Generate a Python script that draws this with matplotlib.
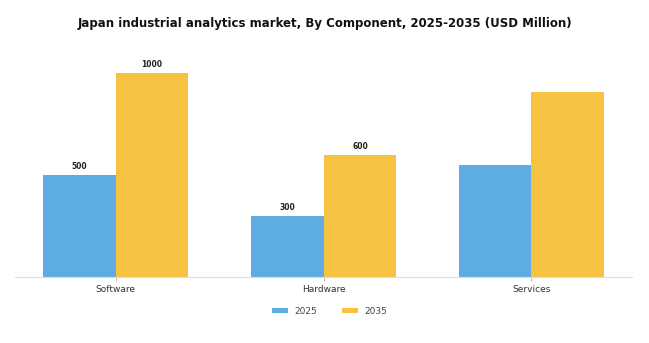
import matplotlib.pyplot as plt
import numpy as np

# данные по сегментам рынка
components = ['Software', 'Hardware', 'Services']
values_2025 = [500, 300, 550]
values_2035 = [1000, 600, 910]
labels_2025 = ['500', '300', '']
labels_2035 = ['1000', '600', '']

color_2025 = '#5DADE2'
color_2035 = '#F5C242'

fig = plt.figure(figsize=(6.49, 3.43), dpi=100)
ax = fig.add_axes([0.023, 0.192, 0.951, 0.624])

x = np.arange(len(components))
w = 0.35
bars1 = ax.bar(x - w / 2, values_2025, w, color=color_2025, label='2025')
bars2 = ax.bar(x + w / 2, values_2035, w, color=color_2035, label='2035')

# подписи значений над столбцами
ax.bar_label(bars1, labels=labels_2025, padding=3, fontsize=5.5, fontweight='bold', color='#222222')
ax.bar_label(bars2, labels=labels_2035, padding=3, fontsize=5.5, fontweight='bold', color='#222222')

ax.set_xticks(x)
ax.set_xticklabels(components, fontsize=6.5, color='#333333')
ax.set_yticks([])
ax.set_ylim(0, 1050)
for s in ['top', 'right', 'left']:
    ax.spines[s].set_visible(False)
ax.spines['bottom'].set_color('#dddddd')
ax.tick_params(axis='x', length=3, color='#bbbbbb', pad=3)

fig.suptitle('Japan industrial analytics market, By Component, 2025-2035 (USD Million)',
             fontsize=8.5, fontweight='bold', y=0.95, x=0.5, color='#111111')

fig.legend(loc='center', bbox_to_anchor=(0.508, 0.093), ncol=2, frameon=False,
           fontsize=6.5, handlelength=1.8, handleheight=0.6, handletextpad=0.7,
           columnspacing=2.7, labelcolor='#444444')

fig.savefig('out.png', dpi=100)
